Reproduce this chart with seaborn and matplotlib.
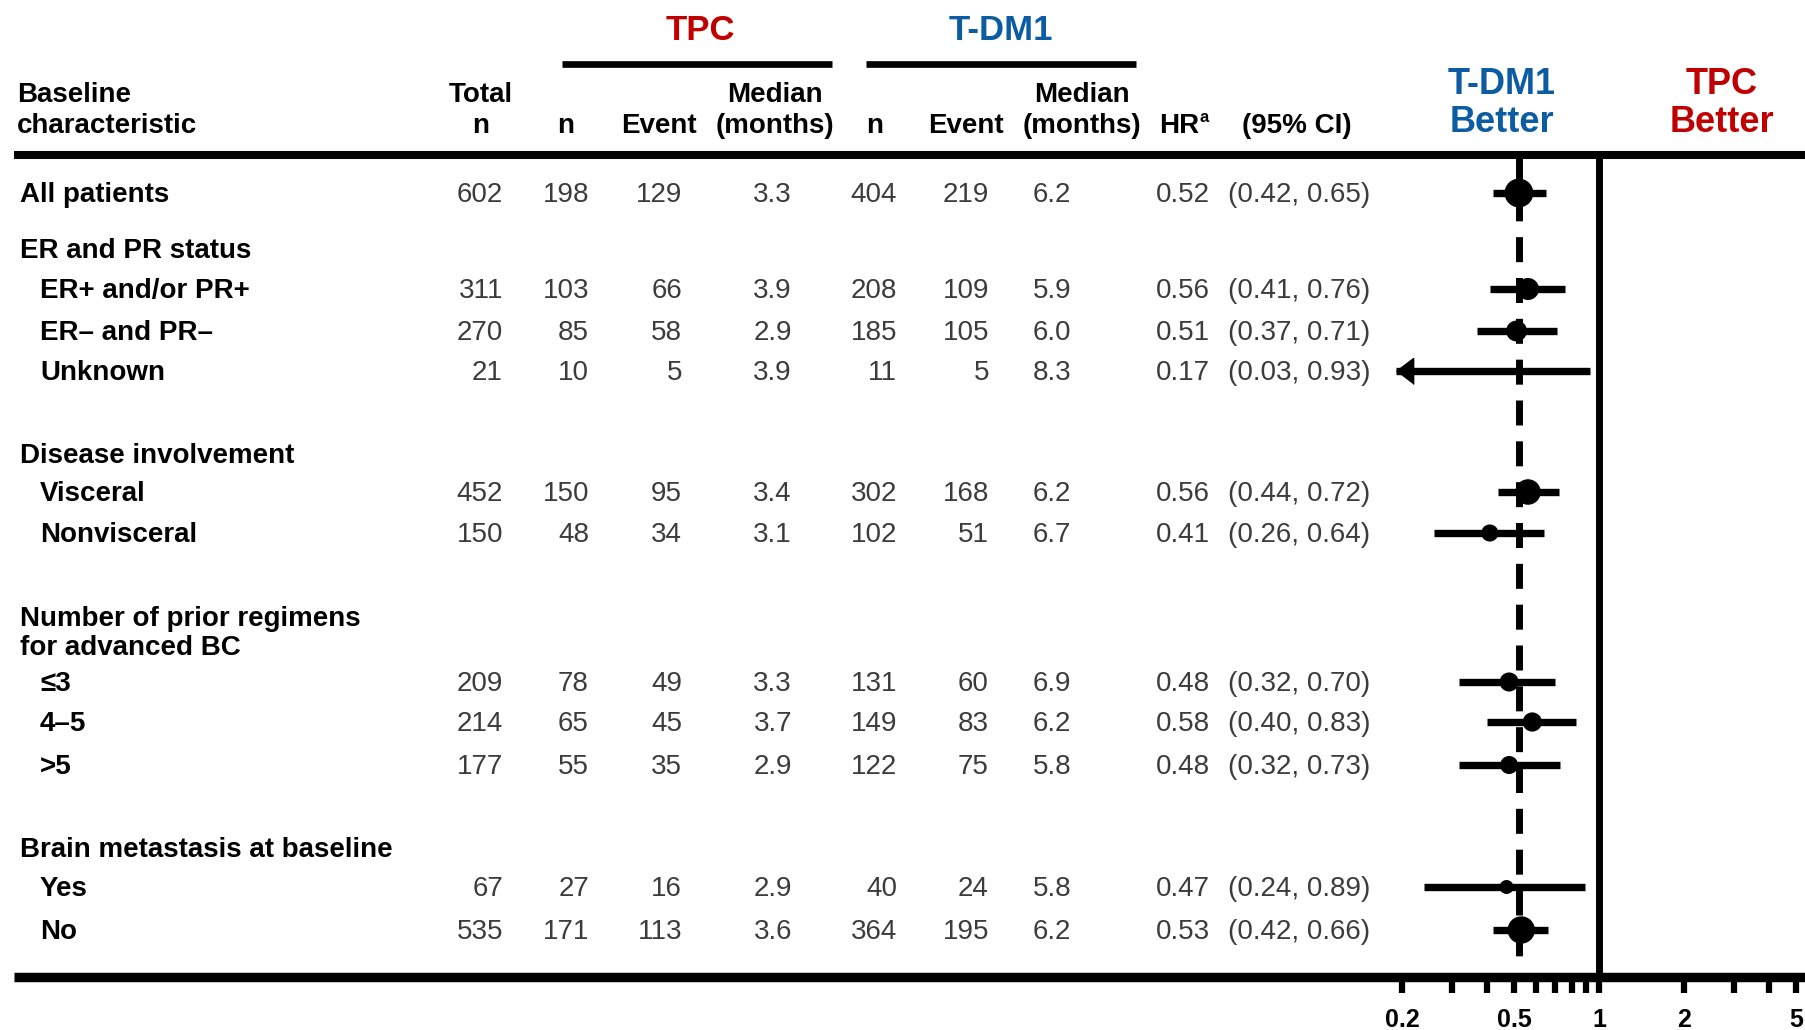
import numpy as np
import pandas as pd
import matplotlib
matplotlib.use("Agg")
import matplotlib.pyplot as plt
import seaborn as sns
from matplotlib.ticker import NullLocator

# ---------------- data ----------------
subgroups = ["All patients", "ER+ and/or PR+", "ER\u2013 and PR\u2013", "Unknown",
             "Visceral", "Nonvisceral", "\u22643", "4\u20135", ">5", "Yes", "No"]
group_headers = ["ER and PR status", "Disease involvement",
                 "Number of prior regimens\nfor advanced BC",
                 "Brain metastasis at baseline"]
total_n = [602, 311, 270, 21, 452, 150, 209, 214, 177, 67, 535]
tpc_n = [198, 103, 85, 10, 150, 48, 78, 65, 55, 27, 171]
tpc_event = [129, 66, 58, 5, 95, 34, 49, 45, 35, 16, 113]
tpc_median = [3.3, 3.9, 2.9, 3.9, 3.4, 3.1, 3.3, 3.7, 2.9, 2.9, 3.6]
tdm1_n = [404, 208, 185, 11, 302, 102, 131, 149, 122, 40, 364]
tdm1_event = [219, 109, 105, 5, 168, 51, 60, 83, 75, 24, 195]
tdm1_median = [6.2, 5.9, 6.0, 8.3, 6.2, 6.7, 6.9, 6.2, 5.8, 5.8, 6.2]
hr = [0.52, 0.56, 0.51, 0.17, 0.56, 0.41, 0.48, 0.58, 0.48, 0.47, 0.53]
ci_low = [0.42, 0.41, 0.37, 0.03, 0.44, 0.26, 0.32, 0.40, 0.32, 0.24, 0.42]
ci_high = [0.65, 0.76, 0.71, 0.93, 0.72, 0.64, 0.70, 0.83, 0.73, 0.89, 0.66]
tick_values = [0.2, 0.3, 0.4, 0.5, 0.6, 0.7, 0.8, 0.9, 1, 2, 3, 4, 5]
tick_labels = ["0.2", "", "", "0.5", "", "", "", "", "1", "2", "", "", "5"]

df = pd.DataFrame(dict(subgroup=subgroups, total=total_n, hr=hr,
                       lo=ci_low, hi=ci_high))

# ---------------- layout (canvas pixels, y downward) ----------------
W, H = 1806, 1030
row_y = [193, 289, 331, 371, 492, 533, 682, 722, 765, 887, 930]
indent = [20, 40, 40, 40, 40, 40, 40, 40, 40, 40, 40]
header_y = [249, 454, 617, 848]
line_gap = 29
text_dy = 2            # lifts glyph centres onto the row centre
top_rule, bottom_rule = 155, 977
dash_end = 957
x_lo, x_hi = 0.1906, 5.42
forest_left = 1396

RED = "#C00000"
BLUE = "#0B5CA2"
GREY = "#3C3C3C"

sns.set_theme(style="white")
plt.rcParams["font.family"] = ["Liberation Sans", "DejaVu Sans"]
plt.rcParams["lines.scale_dashes"] = False

fig = plt.figure(figsize=(W / 100, H / 100), dpi=100)
tab = fig.add_axes([0, 0, 1, 1])
tab.set_xlim(0, W)
tab.set_ylim(H, 0)
tab.axis("off")


def put(x, y, s, **kw):
    kw.setdefault("va", "center")
    return tab.text(x, y + text_dy, s, **kw)


fs = 20
# column headers
put(700, 29, "TPC", color=RED, fontsize=25, fontweight="bold", ha="center")
put(1001, 29, "T-DM1", color=BLUE, fontsize=25, fontweight="bold", ha="center")
tab.plot([562, 832], [63.5, 63.5], color="black", lw=4.8, solid_capstyle="butt")
tab.plot([866, 1136], [63.5, 63.5], color="black", lw=4.8, solid_capstyle="butt")

hdr = dict(fontsize=fs, fontweight="bold", color="black")
put(17, 93, "Baseline", ha="left", **hdr)
put(17, 124, "characteristic", ha="left", **hdr)
put(481, 93, "Total", ha="center", **hdr)
put(481, 124, "n", ha="center", **hdr)
put(566, 124, "n", ha="center", **hdr)
put(659, 124, "Event", ha="center", **hdr)
put(775, 93, "Median", ha="center", **hdr)
put(775, 124, "(months)", ha="center", **hdr)
put(875, 124, "n", ha="center", **hdr)
put(966, 124, "Event", ha="center", **hdr)
put(1082, 93, "Median", ha="center", **hdr)
put(1082, 124, "(months)", ha="center", **hdr)
put(1199, 124, "HR", ha="right", **hdr)
put(1200, 116, "a", ha="left", fontsize=12, fontweight="bold", color="black")
put(1297, 124, "(95% CI)", ha="center", **hdr)

put(1502, 82, "T-DM1", color=BLUE, fontsize=26, fontweight="bold", ha="center")
put(1502, 120, "Better", color=BLUE, fontsize=26, fontweight="bold", ha="center")
put(1722, 82, "TPC", color=RED, fontsize=26, fontweight="bold", ha="center")
put(1722, 120, "Better", color=RED, fontsize=26, fontweight="bold", ha="center")

# horizontal rules
tab.plot([14, W], [top_rule, top_rule], color="black", lw=5.8, solid_capstyle="butt")
tab.plot([14, W], [bottom_rule, bottom_rule], color="black", lw=6.8, solid_capstyle="butt")

# group headers
for txt, y in zip(group_headers, header_y):
    for k, part in enumerate(txt.split("\n")):
        put(20, y + k * line_gap, part, fontsize=fs, fontweight="bold",
            color="black", ha="left")

# table rows
num = dict(fontsize=fs, color=GREY, ha="right")
for i, y in enumerate(row_y):
    put(indent[i], y, subgroups[i], fontsize=fs, fontweight="bold",
        color="black", ha="left")
    put(503, y, f"{total_n[i]}", **num)
    put(589, y, f"{tpc_n[i]}", **num)
    put(682, y, f"{tpc_event[i]}", **num)
    put(792, y, f"{tpc_median[i]:.1f}", **num)
    put(897, y, f"{tdm1_n[i]}", **num)
    put(989, y, f"{tdm1_event[i]}", **num)
    put(1071, y, f"{tdm1_median[i]:.1f}", **num)
    put(1210, y, f"{hr[i]:.2f}", **num)
    put(1228, y, f"({ci_low[i]:.2f}, {ci_high[i]:.2f})", fontsize=fs,
        color=GREY, ha="left")

# ---------------- forest plot ----------------
ax = fig.add_axes([forest_left / W, (H - bottom_rule) / H,
                   (W - forest_left) / W, (bottom_rule - top_rule) / H])
ax.set_xscale("log")
ax.set_xlim(x_lo, x_hi)
ax.set_ylim(bottom_rule, top_rule)
ax.patch.set_alpha(0)
for s in ax.spines.values():
    s.set_visible(False)
ax.grid(False)

df["y"] = row_y
ax.axvline(1, color="black", lw=5, solid_capstyle="butt", zorder=2)
ax.plot([hr[0], hr[0]], [top_rule, dash_end], color="black", lw=5,
        dashes=(18, 11.4), dash_capstyle="butt", zorder=2)

clipped = df["lo"] < x_lo
ax.hlines(df["y"], np.maximum(df["lo"], x_lo), df["hi"], color="black",
          lw=5.3, zorder=3)
arrow = [(0, 0), (0.66, 0.5), (0.66, -0.5)]
ax.plot(np.full(clipped.sum(), x_lo), df.loc[clipped, "y"], linestyle="none",
        marker=arrow, markersize=24.7, color="black", clip_on=False, zorder=4)

sns.scatterplot(data=df, x="hr", y="y", size="total", sizes=(60, 430),
                size_norm=(0, 602), color="black", edgecolor="none",
                legend=False, ax=ax, zorder=5)

ax.set_xticks(tick_values)
ax.set_xticklabels(tick_labels, fontsize=18, fontweight="bold")
ax.xaxis.set_minor_locator(NullLocator())
ax.tick_params(axis="x", bottom=True, direction="out", length=11.5, width=4.5,
               pad=11, colors="black")
ax.tick_params(axis="y", left=False, labelleft=False)
ax.set_xlabel("")
ax.set_ylabel("")

fig.savefig("out.png", dpi=100)
